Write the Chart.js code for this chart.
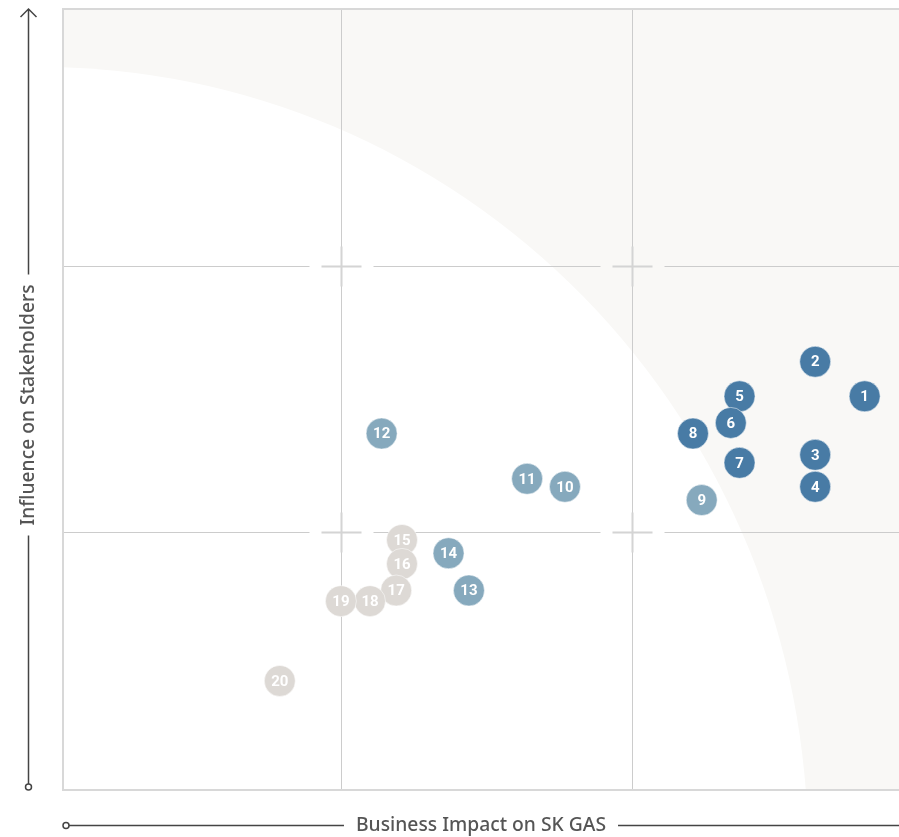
<!DOCTYPE html>
<html>
<head>
<meta charset="utf-8">
<style>
  html, body { margin: 0; padding: 0; background: #fff; overflow: hidden; }
  #wrap { width: 899px; height: 837px; position: relative; }
</style>
<script src="https://cdn.jsdelivr.net/npm/chart.js@4/dist/chart.umd.min.js"></script>
</head>
<body>
<div id="wrap"><canvas id="matrix"></canvas></div>
<script>
/* --- Data ---------------------------------------------------------------- */
const issueIds   = [1, 2, 3, 4, 5, 6, 7, 8, 9, 10, 11, 12, 13, 14, 15, 16, 17, 18, 19, 20];
const bizImpact  = [2.80, 2.63, 2.63, 2.63, 2.37, 2.34, 2.37, 2.21, 2.24, 1.77,
                    1.64, 1.14, 1.44, 1.37, 1.21, 1.21, 1.19, 1.10, 1.00, 0.79];
const influence  = [1.51, 1.64, 1.29, 1.17, 1.51, 1.41, 1.26, 1.37, 1.12, 1.17,
                    1.20, 1.37, 0.78, 0.92, 0.97, 0.88, 0.78, 0.74, 0.74, 0.44];
const tier       = ['high','high','high','high','high','high','high','high',
                    'mid','mid','mid','mid','mid','mid',
                    'low','low','low','low','low','low'];
const gridTicks  = [1, 2];
const xTitle = 'Business Impact on SK GAS';
const yTitle = 'Influence on Stakeholders';

const tierColour = { high: '#487ba5', mid: '#86a9bd', low: '#ddd9d5' };

/* --- Plugins ------------------------------------------------------------- */
const backdrop = {
  id: 'backdrop',
  beforeDatasetsDraw(c) {
    const { ctx, chartArea: a, scales: { x, y } } = c;
    ctx.save();
    ctx.beginPath(); ctx.rect(a.left, a.top, a.right - a.left, a.bottom - a.top); ctx.clip();
    ctx.fillStyle = '#f9f8f6';
    ctx.fillRect(a.left, a.top, a.right - a.left, a.bottom - a.top);
    ctx.fillStyle = '#ffffff';
    ctx.beginPath();
    ctx.ellipse(a.left - 23, a.bottom + 60, 768, 783, 0, 0, Math.PI * 2);
    ctx.fill();
    ctx.restore();

    // grid lines with gaps and crosses at the intersections
    ctx.save();
    ctx.strokeStyle = '#cccccc';
    ctx.lineWidth = 1;
    const gx = gridTicks.map(v => Math.round(x.getPixelForValue(v)) + 0.5);
    const gy = gridTicks.map(v => Math.round(y.getPixelForValue(v)) + 0.5);
    const gap = 32, arm = 20;
    gx.forEach(px => {
      let stops = [a.top];
      gy.forEach(py => { stops.push(py - gap, py + gap); });
      stops.push(a.bottom);
      for (let i = 0; i < stops.length; i += 2) {
        ctx.beginPath(); ctx.moveTo(px, stops[i]); ctx.lineTo(px, stops[i + 1]); ctx.stroke();
      }
    });
    gy.forEach(py => {
      let stops = [a.left];
      gx.forEach(px => { stops.push(px - gap, px + gap); });
      stops.push(a.right);
      for (let i = 0; i < stops.length; i += 2) {
        ctx.beginPath(); ctx.moveTo(stops[i], py); ctx.lineTo(stops[i + 1], py); ctx.stroke();
      }
    });
    ctx.lineWidth = 2;
    ctx.strokeStyle = '#d4d4d4';
    gx.forEach(px => gy.forEach(py => {
      ctx.beginPath();
      ctx.moveTo(px - arm, py); ctx.lineTo(px + arm, py);
      ctx.moveTo(px, py - arm); ctx.lineTo(px, py + arm);
      ctx.stroke();
    }));

    // frame: left, top, bottom
    ctx.strokeStyle = '#d8d8d8';
    ctx.lineWidth = 2;
    ctx.beginPath();
    ctx.moveTo(a.right, a.top); ctx.lineTo(a.left, a.top);
    ctx.lineTo(a.left, a.bottom); ctx.lineTo(a.right, a.bottom);
    ctx.stroke();
    ctx.restore();
  },
  afterDraw(c) {
    const { ctx } = c;
    ctx.save();
    ctx.strokeStyle = '#444';
    ctx.fillStyle = '#555';
    ctx.lineWidth = 1.5;
    ctx.font = '500 19.3px "Noto Sans", "Noto Sans CJK KR", sans-serif';
    ctx.textAlign = 'center';
    ctx.textBaseline = 'middle';

    // y axis arrow
    const ax = 28.5, yMid = 405;
    const yw = ctx.measureText(yTitle).width;
    ctx.beginPath();
    ctx.moveTo(ax, 10); ctx.lineTo(ax, yMid - yw / 2 - 10);
    ctx.moveTo(ax, yMid + yw / 2 + 10); ctx.lineTo(ax, 784);
    ctx.moveTo(ax - 8, 17); ctx.lineTo(ax, 9); ctx.lineTo(ax + 8, 17);
    ctx.stroke();
    ctx.fillStyle = '#fff';
    ctx.beginPath(); ctx.arc(ax, 787, 3, 0, Math.PI * 2); ctx.fill(); ctx.stroke();
    ctx.fillStyle = '#555';
    ctx.save();
    ctx.translate(ax, yMid); ctx.rotate(-Math.PI / 2);
    ctx.fillText(yTitle, 0, 0);
    ctx.restore();

    // x axis line
    const by = 825.5, xMid = 481;
    const xw = ctx.measureText(xTitle).width;
    ctx.beginPath();
    ctx.moveTo(69, by); ctx.lineTo(xMid - xw / 2 - 12, by);
    ctx.moveTo(xMid + xw / 2 + 12, by); ctx.lineTo(899, by);
    ctx.stroke();
    ctx.fillStyle = '#fff';
    ctx.beginPath(); ctx.arc(66, by, 3, 0, Math.PI * 2); ctx.fill(); ctx.stroke();
    ctx.fillStyle = '#555';
    ctx.fillText(xTitle, xMid, by);
    ctx.restore();
  }
};

const bubbleLabels = {
  id: 'bubbleLabels',
  afterDatasetsDraw(c) {
    const { ctx } = c;
    const meta = c.getDatasetMeta(0);
    ctx.save();
    ctx.fillStyle = '#fff';
    ctx.font = 'bold 15px Roboto, "Noto Sans", sans-serif';
    ctx.textAlign = 'center';
    ctx.textBaseline = 'middle';
    meta.data.forEach((pt, i) => ctx.fillText(String(issueIds[i]), pt.x, pt.y + 1));
    ctx.restore();
  }
};

/* --- Chart --------------------------------------------------------------- */
const ctx = document.getElementById('matrix').getContext('2d');
const chart = new Chart(ctx, {
  type: 'scatter',
  data: {
    datasets: [{
      data: issueIds.map((id, i) => ({ x: bizImpact[i], y: influence[i] })),
      backgroundColor: tier.map(t => tierColour[t]),
      borderColor: 'rgba(255,255,255,0.5)',
      borderWidth: 1,
      pointRadius: 15.5,
      pointHoverRadius: 15.5
    }]
  },
  options: {
    responsive: true,
    maintainAspectRatio: false,
    animation: false,
    layout: { autoPadding: false, padding: { left: 63, top: 9, right: 0, bottom: 47 } },
    plugins: { legend: { display: false }, tooltip: { enabled: false } },
    scales: {
      x: { display: false, min: 0.045, max: 2.918 },
      y: { display: false, min: 0.030, max: 2.966 }
    }
  },
  plugins: [backdrop, bubbleLabels]
});
</script>
</body>
</html>
